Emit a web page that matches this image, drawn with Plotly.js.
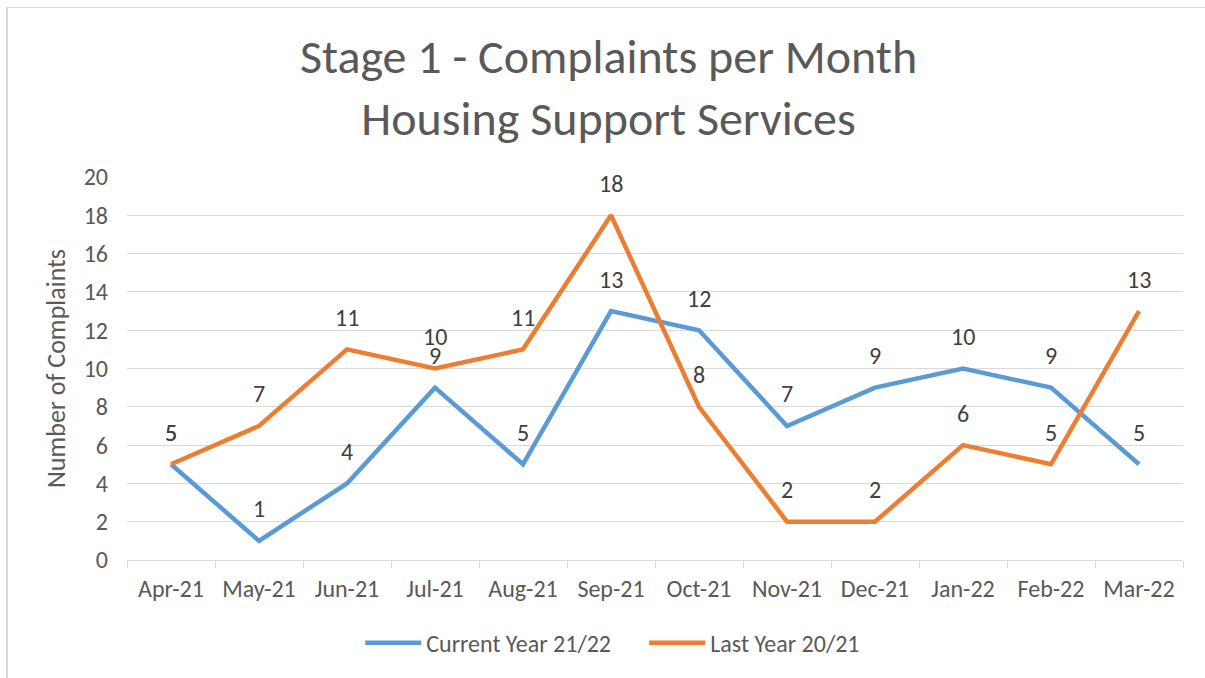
<!DOCTYPE html>
<html><head><meta charset="utf-8">
<script src="https://cdn.plot.ly/plotly-3.0.1.min.js"></script>
<style>
html,body{margin:0;padding:0;background:#fff;overflow:hidden;}
#wrap{position:relative;width:1205px;height:678px;overflow:hidden;}
#chart{position:absolute;left:0;top:0;width:1205px;height:678px;}
#frame{position:absolute;left:6px;top:7px;width:1300px;height:800px;border-left:2px solid #d9d9d9;border-top:1px solid #d9d9d9;pointer-events:none;}
</style></head>
<body>
<div id="wrap"><div id="chart"></div><div id="frame"></div></div>
<script>
const months = ["Apr-21","May-21","Jun-21","Jul-21","Aug-21","Sep-21","Oct-21","Nov-21","Dec-21","Jan-22","Feb-22","Mar-22"];
const currentYear = [5,1,4,9,5,13,12,7,9,10,9,5];
const lastYear = [5,7,11,10,11,18,8,2,2,6,5,13];
const yTicks = [0,2,4,6,8,10,12,14,16,18,20];

const FONT = "Carlito, Lato, 'Open Sans', sans-serif";
const blue = "#5B9BD5", orange = "#ED7D31";

const traces = [
  {x: months, y: currentYear, name: "Current Year 21/22", type: "scatter", mode: "lines",
   line: {color: blue, width: 4.5}},
  {x: months, y: lastYear, name: "Last Year 20/21", type: "scatter", mode: "lines",
   line: {color: orange, width: 4.5}}
];

const annotations = [];
[currentYear, lastYear].forEach(series => {
  series.forEach((v, i) => {
    annotations.push({x: months[i], y: v, xref: "x", yref: "y", text: String(v),
      showarrow: false, yshift: 32, font: {family: FONT, size: 24, color: "#404040"}});
  });
});

const layout = {
  width: 1205, height: 678,
  margin: {l: 127, r: 22, t: 177, b: 118},
  paper_bgcolor: "rgba(0,0,0,0)", plot_bgcolor: "#fff",
  title: {text: "Stage 1 - Complaints per Month<br>Housing Support Services",
    font: {family: FONT, size: 48, color: "#595959"}, x: 0.505, xanchor: "center",
    yref: "container", y: 1 - 73/678, yanchor: "middle"},
  xaxis: {type: "category", range: [-0.5, 11.5], tickson: "boundaries", ticks: "outside", ticklen: 7,
    tickcolor: "#d9d9d9", showline: true, linecolor: "#d9d9d9", linewidth: 1, showgrid: false,
    ticklabelstandoff: 7,
    tickfont: {family: FONT, size: 24, color: "#595959"}, zeroline: false, fixedrange: true},
  yaxis: {range: [0, 20], tickvals: yTicks, showgrid: true, gridcolor: "#d9d9d9", gridwidth: 1,
    zeroline: false, showline: false, ticks: "", ticklabelstandoff: 18,
    tickfont: {family: FONT, size: 24, color: "#595959"},
    title: {text: "Number of Complaints", font: {family: FONT, size: 26, color: "#595959"}, standoff: 10},
    fixedrange: true},
  legend: {orientation: "h", x: 0.4898, xanchor: "center", y: -0.217, yanchor: "middle",
    font: {family: FONT, size: 24, color: "#595959"}, itemwidth: 56, entrywidth: 213, tracegroupgap: 0},
  annotations: annotations,
  showlegend: true
};
Plotly.newPlot("chart", traces, layout, {displayModeBar: false, staticPlot: true});
</script>
</body></html>
